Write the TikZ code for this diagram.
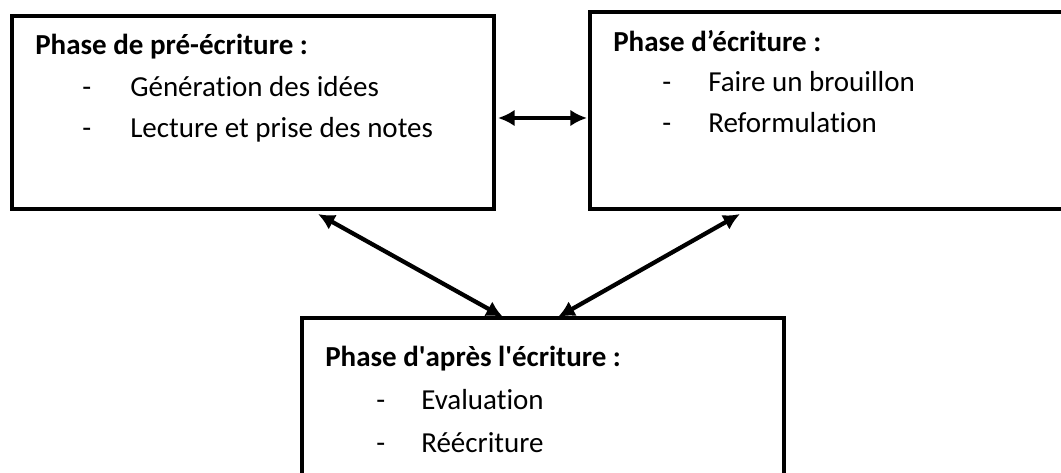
\documentclass[tikz,border=0pt]{standalone}
\usepackage{fontspec}
\setmainfont{Carlito}[Ligatures={NoCommon}]
\usetikzlibrary{arrows.meta,calc}
\begin{document}
\begin{tikzpicture}[x=0.75pt,y=-0.75pt,
  phasebox/.style={draw=black,line width=3.4pt,inner sep=0pt,outer sep=0pt,fill=none,anchor=north west},
  txt/.style={inner sep=0pt,anchor=base west,font=\fontsize{21.75}{26}\selectfont},
  ttl/.style={txt,font=\fontsize{21.75}{26}\selectfont\bfseries},
  arr/.style={line width=3.2pt,{Latex[length=12.5pt,width=12.5pt]}-{Latex[length=12.5pt,width=12.5pt]}}]
\useasboundingbox (0,0) rectangle (1061,473);
\clip (0,0) rectangle (1061,473);
\fill[white] (0,0) rectangle (1061,473);
% boxes
\node[phasebox,minimum width=361.5pt,minimum height=144.75pt] (b1) at (12,16) {};
\node[phasebox,minimum width=390pt,minimum height=147.75pt] (b2) at (590,12) {};
\node[phasebox,minimum width=361.5pt,minimum height=129pt] (b3) at (302,318) {};
% box 1 texts
\node[ttl] (t1) at ($(b1.north west)+(23,39)$) {Phase de pré-écriture :};
\node[txt] (d11) at ($(b1.north west)+(70,81)$) {-};
\node[txt] (i11) at ($(b1.north west)+(118,81)$) {Génération des idées};
\node[txt] (d12) at ($(b1.north west)+(70,122)$) {-};
\node[txt] (i12) at ($(b1.north west)+(118,122)$) {Lecture et prise des notes};
% box 2 texts
\node[ttl] (t2) at ($(b2.north west)+(23,40)$) {Phase d’écriture :};
\node[txt] (d21) at ($(b2.north west)+(72,80)$) {-};
\node[txt] (i21) at ($(b2.north west)+(118,80)$) {Faire un brouillon};
\node[txt] (d22) at ($(b2.north west)+(72,121)$) {-};
\node[txt] (i22) at ($(b2.north west)+(118,121)$) {Reformulation};
% box 3 texts
\node[ttl] (t3) at ($(b3.north west)+(23,49)$) {Phase d\textquotesingle après l\textquotesingle écriture :};
\node[txt] (d31) at ($(b3.north west)+(74,92)$) {-};
\node[txt] (i31) at ($(b3.north west)+(119,92)$) {Evaluation};
\node[txt] (d32) at ($(b3.north west)+(74,135)$) {-};
\node[txt] (i32) at ($(b3.north west)+(119,135)$) {Réécriture};
% arrow end points
\coordinate (h1) at ($(b1.north east)+(4,102)$);
\coordinate (h2) at ($(b2.north west)+(-3,106)$);
\coordinate (a1) at ($(b1.south west)+(306,5)$);
\coordinate (a2) at ($(b3.north west)+(201,-1)$);
\coordinate (c1) at ($(b2.south west)+(150,5)$);
\coordinate (c2) at ($(b3.north west)+(256,-1)$);
\draw[arr] (h1) -- (h2);
\draw[arr] (a1) -- (a2);
\draw[arr] (c1) -- (c2);
\end{tikzpicture}
\end{document}
